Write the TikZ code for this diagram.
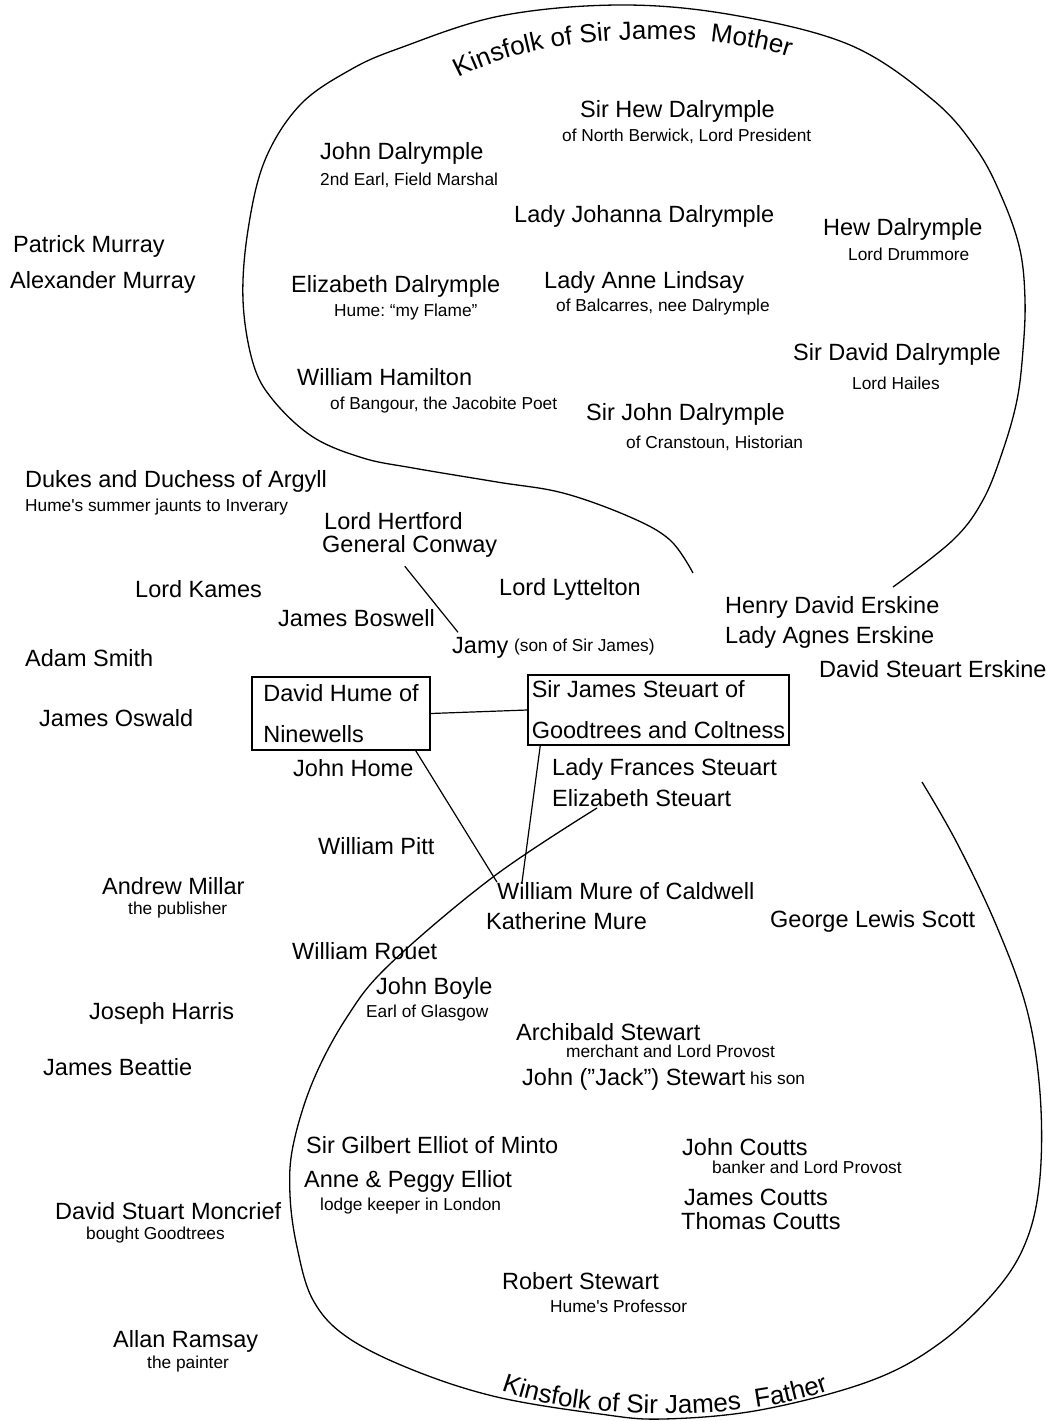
\documentclass[tikz,border=0pt]{standalone}
\usepackage{fontspec}
\setmainfont{Liberation Sans}
\usetikzlibrary{decorations.text,calc}
\frenchspacing

\begin{document}
\begin{tikzpicture}[x=1pt,y=-1pt,
  person/.style={anchor=west,inner sep=0pt,font=\fontsize{23.5}{26}\selectfont},
  remark/.style={anchor=west,inner sep=0pt,font=\fontsize{17.3}{19}\selectfont},
  personbox/.style={draw,line width=1.5pt,align=left,inner sep=0pt,font=\fontsize{23.5}{41}\selectfont},
  link/.style={line width=1.2pt},
  kin/.style={line width=1.3pt}]

\useasboundingbox (0,0) rectangle (1046,1421);

% mother's side
\draw[kin] plot[smooth,tension=0.6] coordinates {(693,573) (670,540) (630,517) (563,493) (497,482) (413,468) (363,458) (313,437) (273,400) (253,363) (243,300) (248,230) (265,160) (300,105) (350,70) (400,48) (500,16) (620,5) (733,15) (850,45) (933,100) (977,150) (1003,200) (1020,250) (1025,300) (1023,350) (1017,400) (1003,450) (983,500) (953,540) (893,587)};

\path[decorate,decoration={text along path,text align=center,
  text={|\fontsize{26}{28}\selectfont|Kinsfolk of Sir James{\ }{\ }Mother}}]
  (440,90) .. controls (520,30) and (720,25) .. (810,65);

\node[person] (hew) at (580,111) {Sir Hew Dalrymple};
\node[remark] (hewnote) at (562,136) {of North Berwick, Lord President};
\node[person] (johnd) at (320,153) {John Dalrymple};
\node[remark] (johndnote) at (320,180) {2nd Earl, Field Marshal};
\node[person] (johanna) at (514,216) {Lady Johanna Dalrymple};
\node[person] (hewd) at (823,229) {Hew Dalrymple};
\node[remark] (hewdnote) at (848,254) {Lord Drummore};
\node[person] (elizd) at (291,286) {Elizabeth Dalrymple};
\node[remark] (elizdnote) at (334,312) {Hume: “my Flame”};
\node[person] (anne) at (544,282) {Lady Anne Lindsay};
\node[remark] (annenote) at (556,307) {of Balcarres, nee Dalrymple};
\node[person] (davidd) at (793,354) {Sir David Dalrymple};
\node[remark] (daviddnote) at (852,383) {Lord Hailes};
\node[person] (hamilton) at (297,377) {William Hamilton};
\node[remark] (hamiltonnote) at (330,405) {of Bangour, the Jacobite Poet};
\node[person] (johns) at (586,414) {Sir John Dalrymple};
\node[remark] (johnsnote) at (626,443) {of Cranstoun, Historian};

% outside, left
\node[person] (patrick) at (13,246) {Patrick Murray};
\node[person] (alexander) at (10,282) {Alexander Murray};
\node[person] (argyll) at (25,481) {Dukes and Duchess of Argyll};
\node[remark] (argyllnote) at (25,507) {Hume\textquotesingle s summer jaunts to Inverary};
\node[person] (hertford) at (324,521) {Lord Hertford};
\node[person] (conway) at (322,546) {General Conway};
\node[person] (kames) at (135,589) {Lord Kames};
\node[person] (lyttelton) at (499,589) {Lord Lyttelton};
\node[person] (boswell) at (278,618) {James Boswell};
\node[person] (jamy) at (452,648) {Jamy};
\node[remark] (jamynote) at (514,647) {(son of Sir James)};
\node[person] (smith) at (25,658) {Adam Smith};
\node[person] (henry) at (725,607) {Henry David Erskine};
\node[person] (agnes) at (725,637) {Lady Agnes Erskine};
\node[person] (erskine) at (819,669) {David Steuart Erskine};
\node[person] (oswald) at (39,718) {James Oswald};

% the two men
\node[personbox,minimum width=178pt,minimum height=73pt] (hume) at (341,713.5) {David Hume of\\Ninewells};
\node[personbox,minimum width=261pt,minimum height=70pt] (steuart) at (658.5,710) {Sir James Steuart of\\Goodtrees and Coltness};

\node[person] (home) at (293,768) {John Home};
\node[person] (frances) at (552,769) {Lady Frances Steuart};
\node[person] (elizs) at (552,798) {Elizabeth Steuart};
\node[person] (pitt) at (318,846) {William Pitt};
\node[person] (millar) at (102,886) {Andrew Millar};
\node[remark] (millarnote) at (128,910) {the publisher};
\node[person] (mure) at (497,891) {William Mure of Caldwell};
\node[person] (katherine) at (486,921) {Katherine Mure};
\node[person] (scott) at (770,921) {George Lewis Scott};
\node[person] (rouet) at (292,951) {William Rouet};
\node[person] (harris) at (89,1013) {Joseph Harris};
\node[person] (beattie) at (43,1067) {James Beattie};
\node[person] (moncrief) at (55,1211) {David Stuart Moncrief};
\node[remark] (moncriefnote) at (86,1235) {bought Goodtrees};
\node[person] (ramsay) at (113,1341) {Allan Ramsay};
\node[remark] (ramsaynote) at (147,1364) {the painter};

\draw[link] (hume.east) -- (steuart.west);
\draw[link] ([xshift=-5pt,yshift=-9pt]conway.south) -- ([xshift=6pt,yshift=5pt]jamy.north west);
\draw[link] ([xshift=-15pt]hume.south east) -- (mure.north west);
\draw[link] ([xshift=13pt]steuart.south west) -- ([xshift=25pt]mure.north west);

% father's side
\draw[kin] plot[smooth,tension=0.6] coordinates {(597,808) (493,877) (390,964) (347,1017) (313,1081) (293,1146) (290,1195) (297,1247) (313,1300) (347,1337) (413,1370) (497,1397) (600,1414) (663,1419) (760,1410) (870,1381) (940,1343) (997,1289) (1027,1239) (1040,1177) (1040,1093) (1027,1010) (997,927) (957,843) (922,782)};

\path[decorate,decoration={text along path,text align=center,
  text={|\fontsize{26}{28}\selectfont|Kinsfolk of Sir James{\ }{\ }Father}}]
  (495,1388) .. controls (570,1420) and (740,1425) .. (835,1388);

\node[person] (boyle) at (376,988) {John Boyle};
\node[remark] (boylenote) at (366,1013) {Earl of Glasgow};
\node[person] (archibald) at (516,1032) {Archibald Stewart};
\node[remark] (archibaldnote) at (566,1051) {merchant and Lord Provost};
\node[person] (jack) at (522,1079) {John (”Jack”) Stewart};
\node[remark] (jacknote) at (750,1078) {his son};
\node[person] (gilbert) at (306,1145) {Sir Gilbert Elliot of Minto};
\node[person] (peggy) at (304,1181) {Anne \& Peggy Elliot};
\node[remark] (peggynote) at (320,1206) {lodge keeper in London};
\node[person] (johnc) at (682,1147) {John Coutts};
\node[remark] (johncnote) at (712,1167) {banker and Lord Provost};
\node[person] (jamesc) at (684,1197) {James Coutts};
\node[person] (thomasc) at (681,1221) {Thomas Coutts};
\node[person] (robert) at (502,1281) {Robert Stewart};
\node[remark] (robertnote) at (550,1306) {Hume\textquotesingle s Professor};

\end{tikzpicture}
\end{document}
